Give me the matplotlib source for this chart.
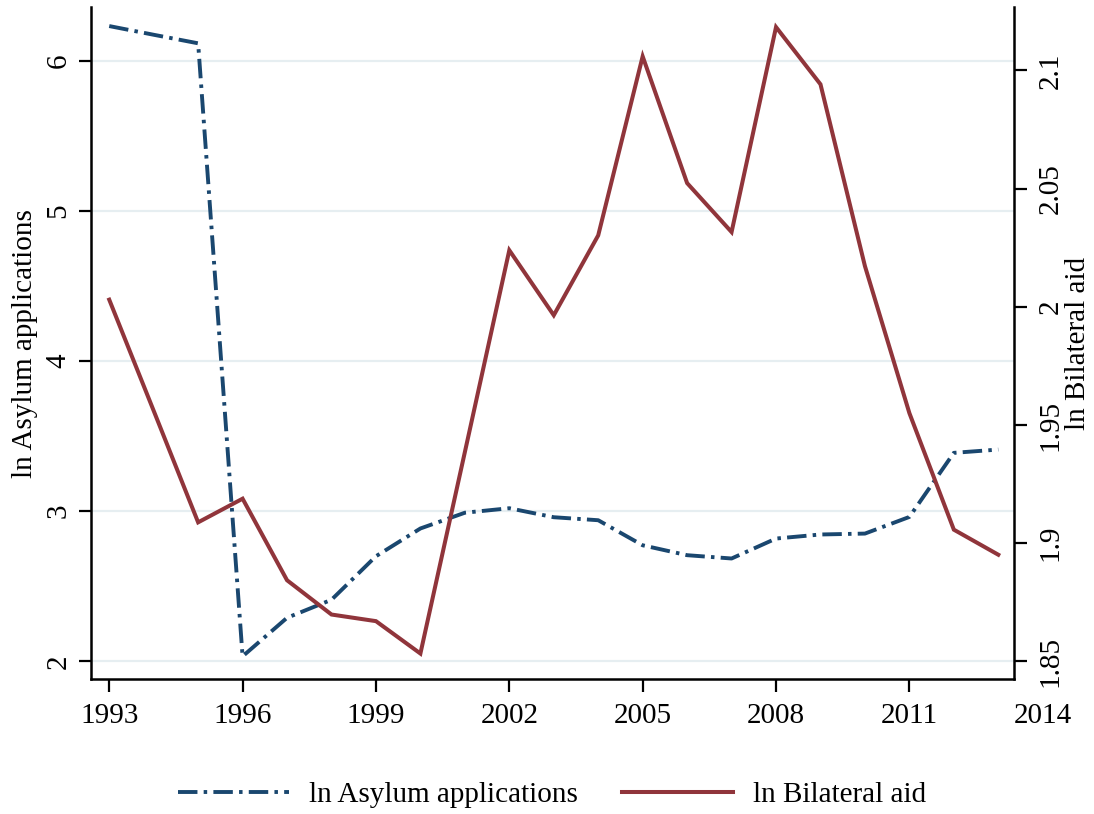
import matplotlib
matplotlib.use("Agg")
import matplotlib.pyplot as plt
import matplotlib.transforms as mtransforms
from matplotlib.lines import Line2D

years = [1993, 1994, 1995, 1996, 1997, 1998, 1999, 2000, 2001, 2002, 2003,
         2004, 2005, 2006, 2007, 2008, 2009, 2010, 2011, 2012, 2013]
asylum = [6.233, 6.175, 6.118, 2.033, 2.29, 2.41, 2.70, 2.885, 2.99, 3.02, 2.96,
          2.94, 2.773, 2.707, 2.685, 2.818, 2.845, 2.851, 2.962, 3.389, 3.411]
aid = [2.003, 1.956, 1.9088, 1.9188, 1.8843, 1.8698, 1.8670, 1.8533, 1.9385, 2.0239, 1.9964,
       2.0302, 2.1059, 2.0523, 2.0316, 2.1183, 2.0941, 2.0172, 1.955, 1.9057, 1.8951]

xticks = [1993, 1996, 1999, 2002, 2005, 2008, 2011]
xtick_extra = 2014
left_ticks = [2, 3, 4, 5, 6]
right_ticks = [1.85, 1.9, 1.95, 2.0, 2.05, 2.1]
right_labels = ["1.85", "1.9", "1.95", "2", "2.05", "2.1"]

BLUE = "#1a476f"
RED = "#90353b"
GRID = "#e6eef1"
FS = 21

plt.rcParams['font.family'] = ['Liberation Serif', 'DejaVu Serif']

fig = plt.figure(figsize=(10.94, 8.14), dpi=100)
W, H = 1094, 814
x0, x1, yt, yb = 91, 1014.3, 7, 679.3
ax = fig.add_axes([x0 / W, 1 - yb / H, (x1 - x0) / W, (yb - yt) / H])
ax2 = ax.twinx()

ls_dashdot = (0, (5.0, 1.6, 0.9, 1.6))
ax.plot(years, asylum, color=BLUE, lw=2.8, linestyle=ls_dashdot, zorder=3)
ax2.plot(years, aid, color=RED, lw=2.9, solid_joinstyle='miter', zorder=3)

ax.set_xlim(1992.59, 2013.36)
ax.set_ylim(1.88, 6.36)
ax2.set_ylim(1.8424, 2.1268)

ax.set_xticks(xticks)
ax.set_xticklabels([str(t) for t in xticks], fontsize=FS)
ax.set_yticks(left_ticks)
ax.set_yticklabels([str(t) for t in left_ticks], fontsize=FS)
ax2.set_yticks(right_ticks)
ax2.set_yticklabels(right_labels, fontsize=FS)

ax.grid(axis='y', color=GRID, lw=1.6, zorder=0)
ax.set_axisbelow(True)

for a in (ax, ax2):
    a.spines['top'].set_visible(False)
    for s in ('left', 'right', 'bottom'):
        a.spines[s].set_linewidth(1.8)
        a.spines[s].set_color('black')
ax.spines['right'].set_visible(False)
ax2.spines['left'].set_visible(False)
ax2.spines['bottom'].set_visible(False)

ax.tick_params(axis='x', direction='out', length=9, width=1.6, pad=8)
ax.tick_params(axis='y', direction='out', length=8.5, width=1.6, pad=5.5, labelrotation=90)
ax2.tick_params(axis='y', direction='out', length=9.5, width=1.6, pad=7.5, labelrotation=90)
plt.setp(ax.get_yticklabels(), va='center')
plt.setp(ax2.get_yticklabels(), va='center')

# 2014 tick label sits beyond the plot region, as in the original
fig.canvas.draw()
bb = ax.get_xticklabels()[0].get_window_extent()
ycen = (bb.y0 + bb.y1) / 2 / (fig.dpi * fig.get_figheight())
ax.text(xtick_extra, ycen, str(xtick_extra),
        transform=mtransforms.blended_transform_factory(ax.transData, fig.transFigure),
        fontsize=FS, ha='center', va='center', clip_on=False)

ax.set_ylabel("ln Asylum applications", fontsize=FS, va='center')
ax.yaxis.set_label_coords((25 - x0) / (x1 - x0), 0.5)
ax2.set_ylabel("ln Bilateral aid", fontsize=FS, va='center', rotation=90)
ax2.yaxis.set_label_coords((1078 - x0) / (x1 - x0), 0.5)

handles = [Line2D([0], [0], color=BLUE, lw=2.8, linestyle=ls_dashdot),
           Line2D([0], [0], color=RED, lw=2.9)]
fig.legend(handles, ["ln Asylum applications", "ln Bilateral aid"],
           loc='center', bbox_to_anchor=(552 / W, 1 - 795 / H), ncol=2, frameon=False,
           fontsize=FS, handlelength=3.8, columnspacing=1.5, handletextpad=0.7)

fig.savefig("out.png", dpi=100)
